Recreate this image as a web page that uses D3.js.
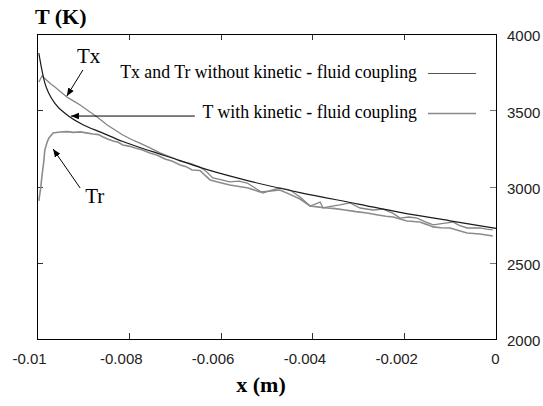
<!DOCTYPE html>
<html>
<head>
<meta charset="utf-8">
<script src="https://cdn.jsdelivr.net/npm/d3@7"></script>
<style>
  body { margin: 0; background: #fff; }
</style>
</head>
<body>
<svg id="chart"></svg>
<script>
// declarations
var width = 543, height = 406;
var margin = {top: 34, right: 47, bottom: 67, left: 37};

var xTicks = [-0.01, -0.008, -0.006, -0.004, -0.002, 0];
var yTicks = [2000, 2500, 3000, 3500, 4000];

// T with kinetic - fluid coupling (smooth)
var tData = [
  [-0.00996, 3875], [-0.00991, 3790], [-0.00983, 3680], [-0.00974, 3610],
  [-0.00961, 3545], [-0.00935, 3470], [-0.00900, 3405], [-0.00860, 3355],
  [-0.00813, 3295], [-0.00750, 3230], [-0.00688, 3170], [-0.00645, 3125],
  [-0.00550, 3045], [-0.00427, 2960], [-0.00300, 2885], [-0.00209, 2830],
  [-0.00100, 2775], [0, 2725]
];

// Tx without coupling (noisy)
var txData = [
  [-0.00996, 3685], [-0.00989, 3725], [-0.00980, 3700], [-0.00970, 3672], [-0.00961, 3652],
  [-0.00948, 3620], [-0.00935, 3587], [-0.00920, 3560], [-0.00906, 3534], [-0.00890, 3500],
  [-0.00869, 3456], [-0.00858, 3430], [-0.00847, 3403], [-0.00830, 3370], [-0.00813, 3338],
  [-0.00795, 3310], [-0.00776, 3285], [-0.00755, 3255], [-0.00732, 3220], [-0.00710, 3195],
  [-0.00688, 3167], [-0.00665, 3150], [-0.00645, 3128], [-0.00630, 3095], [-0.00617, 3056],
  [-0.00600, 3045], [-0.00580, 3030], [-0.00560, 3035], [-0.00542, 3023], [-0.00525, 2990],
  [-0.00508, 2957], [-0.00490, 2975], [-0.00471, 2990], [-0.00460, 2985], [-0.00449, 2977],
  [-0.00427, 2931], [-0.00405, 2872], [-0.00383, 2898], [-0.00377, 2859], [-0.00360, 2870],
  [-0.00340, 2879], [-0.00318, 2892], [-0.00296, 2859], [-0.00268, 2846], [-0.00246, 2852],
  [-0.00225, 2825], [-0.00209, 2793], [-0.00190, 2800], [-0.00172, 2793], [-0.00155, 2770],
  [-0.00137, 2748], [-0.00107, 2761], [-0.00094, 2767], [-0.00080, 2745], [-0.00063, 2728],
  [-0.00035, 2728], [-0.00020, 2720], [-0.00007, 2715]
];

// Tr without coupling (noisy)
var trData = [
  [-0.00996, 2905], [-0.00992, 2990], [-0.00989, 3075], [-0.00985, 3170], [-0.00983, 3239],
  [-0.00978, 3290], [-0.00974, 3318], [-0.00965, 3351], [-0.00950, 3357], [-0.00935, 3360],
  [-0.00920, 3355], [-0.00905, 3358], [-0.00890, 3350], [-0.00878, 3344], [-0.00866, 3340],
  [-0.00856, 3325], [-0.00845, 3310], [-0.00834, 3298], [-0.00823, 3290], [-0.00813, 3272],
  [-0.00800, 3265], [-0.00786, 3252], [-0.00770, 3240], [-0.00754, 3220], [-0.00738, 3205],
  [-0.00721, 3180], [-0.00705, 3165], [-0.00688, 3141], [-0.00675, 3130], [-0.00662, 3108],
  [-0.00645, 3105], [-0.00623, 3043], [-0.00600, 3025], [-0.00580, 3010], [-0.00560, 3000],
  [-0.00540, 2990], [-0.00514, 2964], [-0.00490, 2970], [-0.00471, 2977], [-0.00450, 2950],
  [-0.00427, 2918], [-0.00405, 2872], [-0.00385, 2865], [-0.00368, 2859], [-0.00350, 2855],
  [-0.00329, 2846], [-0.00305, 2835], [-0.00281, 2826], [-0.00260, 2815], [-0.00240, 2805],
  [-0.00224, 2800], [-0.00194, 2774], [-0.00166, 2767], [-0.00150, 2750], [-0.00137, 2735],
  [-0.00120, 2730], [-0.00100, 2728], [-0.00080, 2710], [-0.00063, 2695], [-0.00035, 2689],
  [-0.00007, 2675]
];

// annotation arrows: [label, label pos, tail, tip] in data units
var txArrow = {label: "Tx", at: [-0.00913, 3810], tail: [-0.00900, 3764], tip: [-0.00935, 3593]};
var trArrow = {label: "Tr", at: [-0.00895, 2892], tail: [-0.00906, 2990], tip: [-0.00965, 3246]};
var tArrow = {tail: [-0.00656, 3462], tip: [-0.00926, 3462]};

//setup SVG
var svg = d3.select('#chart').attr('width', width).attr('height', height);

var x = d3.scaleLinear().domain([-0.01, 0]).range([margin.left, width - margin.right]);
var y = d3.scaleLinear().domain([2000, 4000]).range([height - margin.bottom, margin.top]);

svg.append('defs').append('marker')
    .attr('id', 'arrow').attr('viewBox', '0 0 10 10')
    .attr('refX', 10).attr('refY', 5)
    .attr('markerWidth', 8).attr('markerHeight', 8)
    .attr('markerUnits', 'userSpaceOnUse')
    .attr('orient', 'auto')
    .append('path').attr('d', 'M0,1 L10,5 L0,9 Z').attr('fill', '#000');

// tick labels (ticks themselves are drawn inward below)
var bottomAxis = d3.axisBottom(x).tickValues(xTicks).tickSize(0).tickPadding(14)
    .tickFormat(function(d) { return String(d); });
var gx = svg.append('g').attr('transform', 'translate(0,' + y(2000) + ')').call(bottomAxis);
gx.select('.domain').remove();
gx.selectAll('text')
    .attr('font-family', 'Liberation Sans, Arial, sans-serif')
    .attr('font-size', '15px').attr('fill', '#222')
    .attr('dx', function(d) { return d < 0 ? -8 : -1; });

var rightAxis = d3.axisRight(y).tickValues(yTicks).tickSize(0).tickPadding(11)
    .tickFormat(d3.format('d'));
var gy = svg.append('g').attr('transform', 'translate(' + x(0) + ',0)').call(rightAxis);
gy.select('.domain').remove();
gy.selectAll('text')
    .attr('font-family', 'Liberation Sans, Arial, sans-serif')
    .attr('font-size', '15px').attr('fill', '#222').attr('dy', '0.45em');

var innerX = xTicks.slice(1, -1), innerY = yTicks.slice(1, -1);
var ticks = svg.append('g').attr('stroke-width', 1);
ticks.selectAll('.tb').data(innerX).enter().append('line')
    .attr('x1', function(d) { return Math.round(x(d)) + 0.5; })
    .attr('x2', function(d) { return Math.round(x(d)) + 0.5; })
    .attr('y1', y(2000)).attr('y2', y(2000) - 6).attr('stroke', '#333');
ticks.selectAll('.tt').data(innerX).enter().append('line')
    .attr('x1', function(d) { return Math.round(x(d)) + 0.5; })
    .attr('x2', function(d) { return Math.round(x(d)) + 0.5; })
    .attr('y1', y(4000)).attr('y2', y(4000) + 6).attr('stroke', '#333');
ticks.selectAll('.tl').data(innerY).enter().append('line')
    .attr('y1', function(d) { return Math.round(y(d)) + 0.5; })
    .attr('y2', function(d) { return Math.round(y(d)) + 0.5; })
    .attr('x1', x(-0.01)).attr('x2', x(-0.01) + 6).attr('stroke', '#333');
ticks.selectAll('.tr').data(innerY).enter().append('line')
    .attr('y1', function(d) { return Math.round(y(d)) + 0.5; })
    .attr('y2', function(d) { return Math.round(y(d)) + 0.5; })
    .attr('x1', x(0)).attr('x2', x(0) - 6).attr('stroke', '#777');

// frame
svg.append('rect')
    .attr('x', Math.round(x(-0.01)) + 0.5).attr('y', Math.round(y(4000)) + 0.5)
    .attr('width', Math.round(x(0) - x(-0.01))).attr('height', Math.round(y(2000) - y(4000)))
    .attr('fill', 'none').attr('stroke', '#000').attr('stroke-width', 1);

// curves
var line = d3.line().x(function(d) { return x(d[0]); }).y(function(d) { return y(d[1]); });
var smooth = d3.line().curve(d3.curveMonotoneX)
    .x(function(d) { return x(d[0]); }).y(function(d) { return y(d[1]); });

svg.append('path').datum(trData).attr('d', line)
    .attr('fill', 'none').attr('stroke', '#8c8c8c').attr('stroke-width', 1.6);
svg.append('path').datum(txData).attr('d', line)
    .attr('fill', 'none').attr('stroke', '#858585').attr('stroke-width', 1.3);
svg.append('path').datum(tData).attr('d', smooth)
    .attr('fill', 'none').attr('stroke', '#1a1a1a').attr('stroke-width', 1.2);

// annotations
[txArrow, trArrow, tArrow].forEach(function(a) {
    svg.append('line')
        .attr('x1', x(a.tail[0])).attr('y1', y(a.tail[1]))
        .attr('x2', x(a.tip[0])).attr('y2', y(a.tip[1]))
        .attr('stroke', '#000').attr('stroke-width', 1)
        .attr('marker-end', 'url(#arrow)');
    if (a.label) {
        svg.append('text')
            .attr('x', x(a.at[0])).attr('y', y(a.at[1]))
            .attr('font-family', 'Liberation Serif, Times New Roman, serif')
            .attr('font-size', '21px').attr('fill', '#000')
            .text(a.label);
    }
});

// legend
var legend = [
    {name: 'Tx and Tr without kinetic - fluid coupling', y: 73, color: '#555', w: 1},
    {name: 'T with kinetic - fluid coupling', y: 113, color: '#888', w: 1.6}
];
var lg = svg.selectAll('.legend').data(legend).enter().append('g');
lg.append('text')
    .attr('x', 417).attr('y', function(d) { return d.y + 5; })
    .attr('text-anchor', 'end')
    .attr('font-family', 'Liberation Serif, Times New Roman, serif')
    .attr('font-size', '17.8px').attr('fill', '#000')
    .text(function(d) { return d.name; });
lg.append('line')
    .attr('x1', 428).attr('x2', 476)
    .attr('y1', function(d) { return d.y + 0.5; }).attr('y2', function(d) { return d.y + 0.5; })
    .attr('stroke', function(d) { return d.color; })
    .attr('stroke-width', function(d) { return d.w; });

// axis titles
svg.append('text')
    .attr('x', 35).attr('y', 24)
    .attr('font-family', 'Liberation Serif, Times New Roman, serif')
    .attr('font-weight', 'bold').attr('font-size', '22px')
    .text('T (K)');
svg.append('text')
    .attr('x', 261).attr('y', 392).attr('text-anchor', 'middle')
    .attr('font-family', 'Liberation Serif, Times New Roman, serif')
    .attr('font-weight', 'bold').attr('font-size', '22px')
    .text('x (m)');
</script>
</body>
</html>
